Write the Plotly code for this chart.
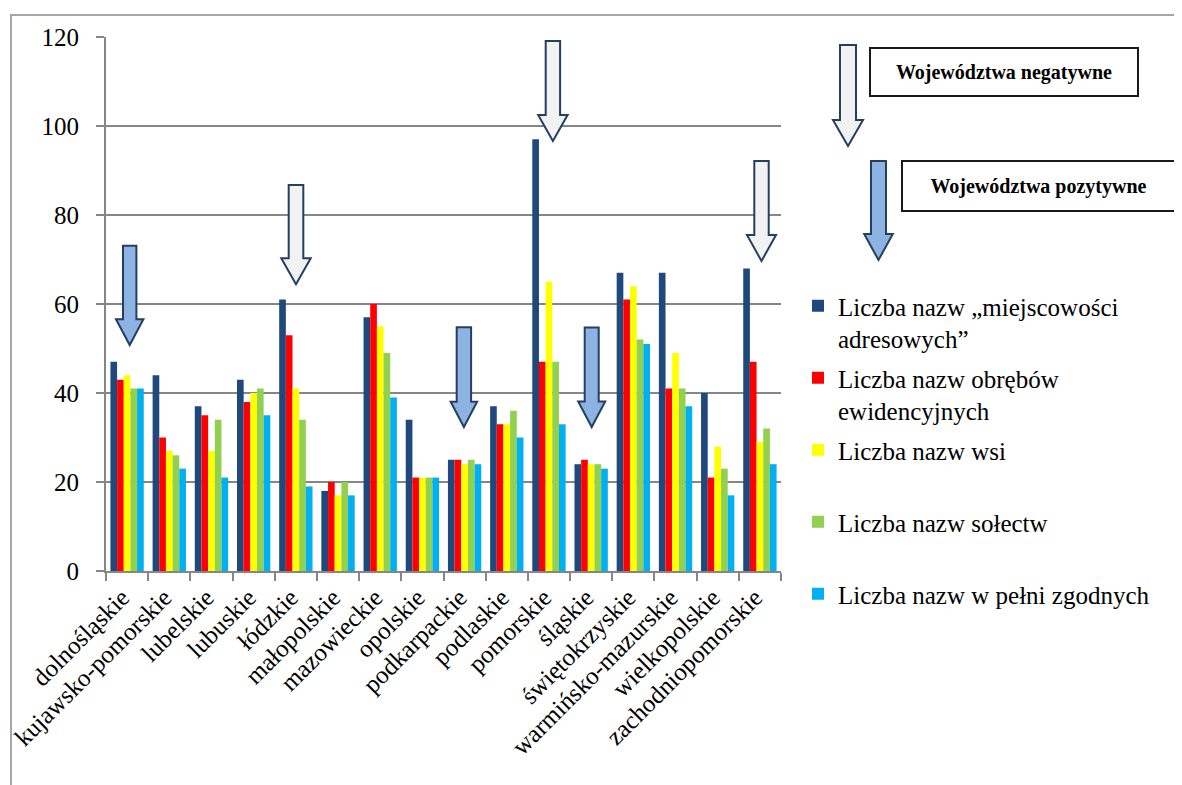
import plotly.graph_objects as go

categories = ["dolnośląskie", "kujawsko-pomorskie", "lubelskie", "lubuskie", "łódzkie",
              "małopolskie", "mazowieckie", "opolskie", "podkarpackie", "podlaskie",
              "pomorskie", "śląskie", "świętokrzyskie", "warmińsko-mazurskie",
              "wielkopolskie", "zachodniopomorskie"]

miejscowosci = [47, 44, 37, 43, 61, 18, 57, 34, 25, 37, 97, 24, 67, 67, 40, 68]
obreby = [43, 30, 35, 38, 53, 20, 60, 21, 25, 33, 47, 25, 61, 41, 21, 47]
wsie = [44, 27, 27, 40, 41, 17, 55, 21, 24, 33, 65, 24, 64, 49, 28, 29]
solectwa = [41, 26, 34, 41, 34, 20, 49, 21, 25, 36, 47, 24, 52, 41, 23, 32]
zgodne = [41, 23, 21, 35, 19, 17, 39, 21, 24, 30, 33, 23, 51, 37, 17, 24]

series_names = ["Liczba nazw „miejscowości<br>adresowych”",
                "Liczba nazw obrębów<br>ewidencyjnych",
                "Liczba nazw wsi<br> ",
                "Liczba nazw sołectw<br> ",
                "Liczba nazw w pełni zgodnych<br> "]
series_values = [miejscowosci, obreby, wsie, solectwa, zgodne]
series_colors = ["#1F497D", "#FF0000", "#FFFF00", "#92D050", "#00B0F0"]

y_ticks = [0, 20, 40, 60, 80, 100, 120]

FONT = "Liberation Serif"
OFF = 8  # page body margin of the html page
PAGE_W, PAGE_H = 1182, 785
W, H = PAGE_W - OFF, PAGE_H - OFF
# plot area in page pixels
L, R, T, B = 106, 781, 37, 571
PW, PH = R - L, B - T


def px(xp):
    return (xp - L) / PW


def py(yp):
    return (B - yp) / PH


fig = go.Figure()
for i, (name, vals, col) in enumerate(zip(series_names, series_values, series_colors)):
    fig.add_trace(go.Bar(x=categories, y=vals, name=name, marker_color=col,
                         marker_line_width=0, legendgroup=f"g{i}"))

# arrows in page pixels: (cx, top, head_start, tip, shaft half width, head half width, fill)
arrows = [
    (129.7, 245.7, 319.3, 345.0, 6.7, 13.7, "#8DB3E2"),
    (296.0, 185.0, 258.3, 284.3, 7.3, 14.7, "#F2F2F2"),
    (463.9, 327.3, 401.7, 427.0, 7.2, 13.2, "#8DB3E2"),
    (552.9, 41.0, 115.0, 141.0, 7.2, 14.7, "#F2F2F2"),
    (591.7, 327.5, 401.5, 427.0, 7.0, 13.5, "#8DB3E2"),
    (761.5, 161.0, 235.0, 261.0, 7.2, 14.5, "#F2F2F2"),
    (848.0, 45.0, 120.0, 146.0, 8.0, 15.0, "#F2F2F2"),
    (878.5, 161.0, 234.0, 260.0, 7.5, 14.3, "#8DB3E2"),
]
shapes = []
for cx, top, hs, tip, sw, hw, fill in arrows:
    pts = [(cx - sw, top), (cx + sw, top), (cx + sw, hs), (cx + hw, hs), (cx, tip),
           (cx - hw, hs), (cx - sw, hs)]
    path = "M" + " L".join(f"{px(a):.5f},{py(b):.5f}" for a, b in pts) + " Z"
    shapes.append(dict(type="path", xref="paper", yref="paper", path=path,
                       fillcolor=fill, line=dict(color="#243F60", width=2), layer="above"))

# outer frame
shapes.append(dict(type="path", xref="paper", yref="paper",
                   path=f"M{px(11):.5f},{py(800):.5f} L{px(11):.5f},{py(15):.5f} L{px(1190):.5f},{py(15):.5f}",
                   line=dict(color="#A6A6A6", width=2)))

annotations = [
    dict(text="<b>Województwa negatywne</b>", xref="paper", yref="paper",
         x=px(1004.3), y=py(72), xanchor="center", yanchor="middle", showarrow=False,
         width=266, height=46, bordercolor="#1a1a1a", borderwidth=2, borderpad=0,
         bgcolor="white", font=dict(family=FONT, size=20, color="black")),
    dict(text="<b>Województwa pozytywne</b>", xref="paper", yref="paper",
         x=px(1038.5), y=py(186), xanchor="center", yanchor="middle", showarrow=False,
         width=271, height=48, bordercolor="#1a1a1a", borderwidth=2, borderpad=0,
         bgcolor="white", font=dict(family=FONT, size=20, color="black")),
]

fig.update_layout(
    width=W, height=H,
    margin=dict(l=L - OFF, r=PAGE_W - R, t=T - OFF, b=PAGE_H - B, pad=0, autoexpand=False),
    paper_bgcolor="white", plot_bgcolor="white",
    barmode="group", bargap=0.21, bargroupgap=0,
    font=dict(family=FONT, size=25, color="black"),
    showlegend=True,
    legend=dict(x=px(798), y=py(283), xanchor="left", yanchor="top",
                font=dict(family=FONT, size=25, color="black"),
                traceorder="grouped", tracegroupgap=4, valign="top",
                bgcolor="rgba(0,0,0,0)", borderwidth=0, itemclick=False),
    shapes=shapes,
    annotations=annotations,
)
fig.update_xaxes(type="category", showline=True, linecolor="#868686", linewidth=2,
                 ticks="outside", tickson="boundaries", ticklen=8, tickcolor="#868686",
                 tickwidth=2, tickangle=-45, showgrid=False, ticklabelshift=-5,
                 automargin=False,
                 tickfont=dict(family=FONT, size=25, color="black"))
fig.update_yaxes(range=[0, 120], tickvals=y_ticks, showline=True, linecolor="#868686",
                 linewidth=2, ticks="outside", ticklen=8, tickcolor="#868686", tickwidth=2,
                 showgrid=True, gridcolor="#868686", gridwidth=2, zeroline=False,
                 ticklabelstandoff=12, automargin=False,
                 tickfont=dict(family=FONT, size=25, color="black"))

fig.write_html("out.html")
